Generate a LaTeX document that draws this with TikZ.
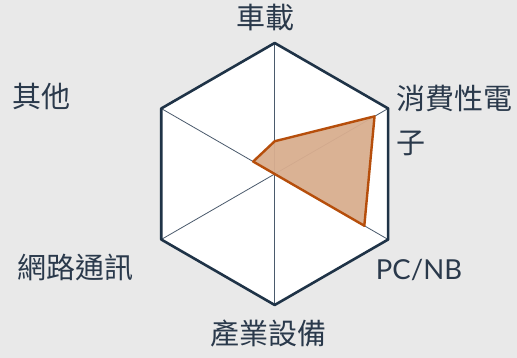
\documentclass[tikz,border=0pt]{standalone}
\usepackage{fontspec}
\setmainfont{Lato}
\newfontfamily\cjk{Noto Sans CJK TC}
\usetikzlibrary{calc}
\definecolor{frame}{HTML}{1F3347}
\definecolor{spoke}{HTML}{4A5A6C}
\definecolor{txt}{HTML}{2A394B}
\definecolor{datafill}{HTML}{D9AE8F}
\definecolor{dataline}{HTML}{B64E0B}
\definecolor{bg}{HTML}{E9E9E9}
\tikzset{
    lbl/.style={text=txt,inner sep=0pt,font=\cjk\fontsize{29}{44}\selectfont},
    latin/.style={text=txt,inner sep=0pt,font=\fontsize{27.5}{30}\selectfont}
}

\begin{document}
\begin{tikzpicture}[x=1pt,y=1pt]
	\fill[bg] (0,0) rectangle (517,358);
	\useasboundingbox (0,0) rectangle (517,358);
	\coordinate (o) at (274.7,184);
        \foreach \a [count=\i] in {90,30,-30,-90,-150,150}{
            \coordinate (v\i) at ($(o)+(\a:131)$);
        }
	\fill[white] (v1)--(v2)--(v3)--(v4)--(v5)--(v6)--cycle;
        \foreach \i in {1,2,3}{
            \pgfmathtruncatemacro{\j}{\i+3}
            \draw[spoke,line width=0.8pt] (v\i) -- (v\j);
        }
	\draw[frame,line width=2.6pt,line join=round] (v1)--(v2)--(v3)--(v4)--(v5)--(v6)--cycle;

	% data
        \foreach \a/\r [count=\i] in {90/0.25,30/0.88,-30/0.79,-90/0,-150/0,150/0.19}{
            \coordinate (d\i) at ($(o)+(\a:131*\r)$);
        }
	\fill[datafill,opacity=0.95] (d1)--(d2)--(d3)--(d4)--(d5)--(d6)--cycle;
	\draw[dataline,line width=2.4pt,line join=round] (d1)--(d2)--(d3)--(d4)--(d5)--(d6)--cycle;

	% labels
	\node[lbl] (car) at (265,340) {車載};
	\node[lbl,align=left,anchor=west] (consumer) at (396,238) {消費性電\\子};
	\node[latin] (pc) at (419,88) {PC/NB};
	\node[lbl] (industry) at (268,25) {產業設備};
	\node[lbl] (network) at (75,91) {網路通訊};
	\node[lbl] (other) at (41.7,261.3) {其他};
\end{tikzpicture}
\end{document}
